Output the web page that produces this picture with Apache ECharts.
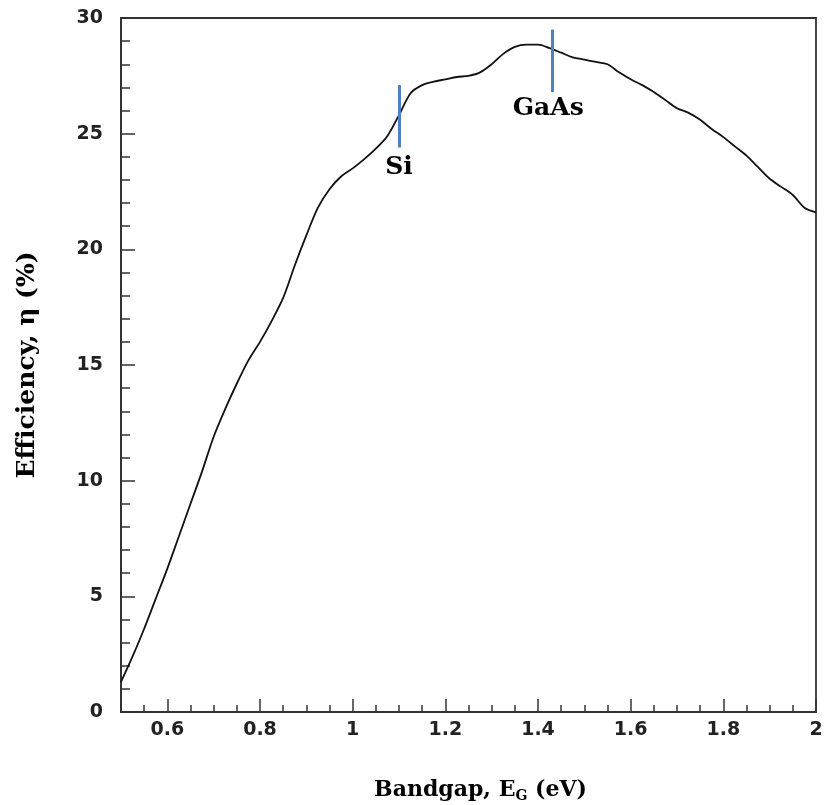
<!DOCTYPE html>
<html>
<head>
<meta charset="utf-8">
<script src="https://cdn.jsdelivr.net/npm/echarts@6/dist/echarts.min.js"></script>
<style>
  html, body { margin: 0; padding: 0; background: #fff; }
  #chart { width: 824px; height: 805px; }
</style>
</head>
<body>
<div id="chart"></div>
<script>
// ---------- data ----------
var bandgap = [0.5, 0.525, 0.55, 0.575, 0.6, 0.625, 0.65, 0.675, 0.7, 0.725, 0.75, 0.775, 0.8,
  0.825, 0.85, 0.875, 0.9, 0.925, 0.95, 0.975, 1.0, 1.025, 1.05, 1.075, 1.1, 1.125, 1.15,
  1.175, 1.2, 1.225, 1.25, 1.275, 1.3, 1.325, 1.35, 1.375, 1.4, 1.425, 1.45, 1.475, 1.5,
  1.525, 1.55, 1.575, 1.6, 1.625, 1.65, 1.675, 1.7, 1.725, 1.75, 1.775, 1.8, 1.825, 1.85,
  1.875, 1.9, 1.925, 1.95, 1.975, 2.0];
var efficiency = [1.3, 2.4, 3.6, 4.9, 6.2, 7.6, 9.0, 10.4, 11.9, 13.1, 14.2, 15.2, 16.0,
  16.9, 17.9, 19.3, 20.6, 21.8, 22.6, 23.15, 23.5, 23.9, 24.35, 24.9, 25.8, 26.75, 27.1,
  27.25, 27.35, 27.45, 27.5, 27.65, 28.0, 28.45, 28.75, 28.85, 28.85, 28.7, 28.5, 28.3, 28.2,
  28.1, 28.0, 27.65, 27.35, 27.1, 26.8, 26.45, 26.1, 25.9, 25.6, 25.2, 24.85, 24.45, 24.05,
  23.55, 23.05, 22.7, 22.35, 21.8, 21.6];

var xTicks = [0.6, 0.8, 1.0, 1.2, 1.4, 1.6, 1.8, 2.0];
// material markers: name, bandgap, bar bottom/top, label position
var markerNames = ['Si', 'GaAs'];
var markerX = [1.1, 1.43];
var markerLow = [24.4, 26.8];
var markerHigh = [27.1, 29.5];
var markerLabelPos = [[1.1, 23.55], [1.422, 26.1]];

var _data = [];
for (var i = 0; i < bandgap.length; i++) {
  _data.push([bandgap[i], efficiency[i]]);
}
var _marks = [], _labels = [];
for (var j = 0; j < markerNames.length; j++) {
  _marks.push([{ coord: [markerX[j], markerLow[j]] }, { coord: [markerX[j], markerHigh[j]] }]);
  _labels.push({ name: markerNames[j], value: markerLabelPos[j] });
}

var tickFont = { color: '#222', fontFamily: 'DejaVu Sans', fontWeight: 'bold', fontSize: 19 };

var option = {
  animation: false,
  grid: {
    left: 121, top: 18, right: 8, bottom: 93, outerBoundsMode: 'none',
    show: true, borderColor: '#333', borderWidth: 1.8
  },
  xAxis: [
    {
      type: 'value', min: 0.5, max: 2,
      name: 'Bandgap, E{sub|G} (eV)',
      nameLocation: 'middle', nameGap: 65,
      nameTextStyle: {
        color: '#000', fontFamily: 'DejaVu Serif', fontWeight: 'bold', fontSize: 22,
        padding: [0, 0, 0, 24],
        rich: { sub: { fontFamily: 'DejaVu Serif', fontWeight: 'bold', fontSize: 14, padding: [12, 0, 0, 0] } }
      },
      axisLine: { show: true, lineStyle: { color: '#333', width: 1.8 } },
      axisTick: { show: true, inside: true, length: 13, customValues: xTicks, lineStyle: { color: '#333', width: 1.5 } },
      axisLabel: {
        customValues: xTicks, margin: 9, color: tickFont.color, fontFamily: tickFont.fontFamily,
        fontWeight: tickFont.fontWeight, fontSize: tickFont.fontSize,
        formatter: function (v) { return String(+v.toFixed(2)); }
      },
      splitLine: { show: false }
    },
    {
      // minor ticks every 0.05
      type: 'value', min: 0.5, max: 2, interval: 0.05, position: 'bottom',
      axisLine: { show: false },
      axisTick: { show: true, inside: true, length: 7, lineStyle: { color: '#333', width: 1.5 } },
      axisLabel: { show: false },
      splitLine: { show: false }
    }
  ],
  yAxis: {
    type: 'value', min: 0, max: 30, interval: 5,
    name: 'Efficiency, η (%)',
    nameLocation: 'middle', nameGap: 81,
    nameTextStyle: { color: '#000', fontFamily: 'DejaVu Serif', fontWeight: 'bold', fontSize: 25 },
    axisLine: { show: true, lineStyle: { color: '#333', width: 1.8 } },
    axisTick: { show: true, inside: true, length: 14, lineStyle: { color: '#333', width: 1.5 } },
    minorTick: { show: true, splitNumber: 5, length: 9, lineStyle: { color: '#333', width: 1.5 } },
    axisLabel: { margin: 18, color: tickFont.color, fontFamily: tickFont.fontFamily, fontWeight: tickFont.fontWeight, fontSize: tickFont.fontSize },
    splitLine: { show: false },
    minorSplitLine: { show: false }
  },
  series: [
    {
      type: 'line', data: _data, smooth: 0.3, symbol: 'none',
      lineStyle: { color: '#111', width: 1.8 },
      markLine: {
        silent: true, symbol: 'none', label: { show: false },
        lineStyle: { color: '#4f81bd', width: 3, type: 'solid' },
        data: _marks
      }
    },
    {
      type: 'scatter', data: _labels, symbolSize: 0, silent: true,
      itemStyle: { opacity: 1 },
      label: {
        show: true, position: 'inside', formatter: '{b}',
        color: '#000', fontFamily: 'DejaVu Serif', fontWeight: 'bold', fontSize: 25
      }
    }
  ]
};

echarts.init(document.getElementById('chart')).setOption(option);
</script>
</body>
</html>
